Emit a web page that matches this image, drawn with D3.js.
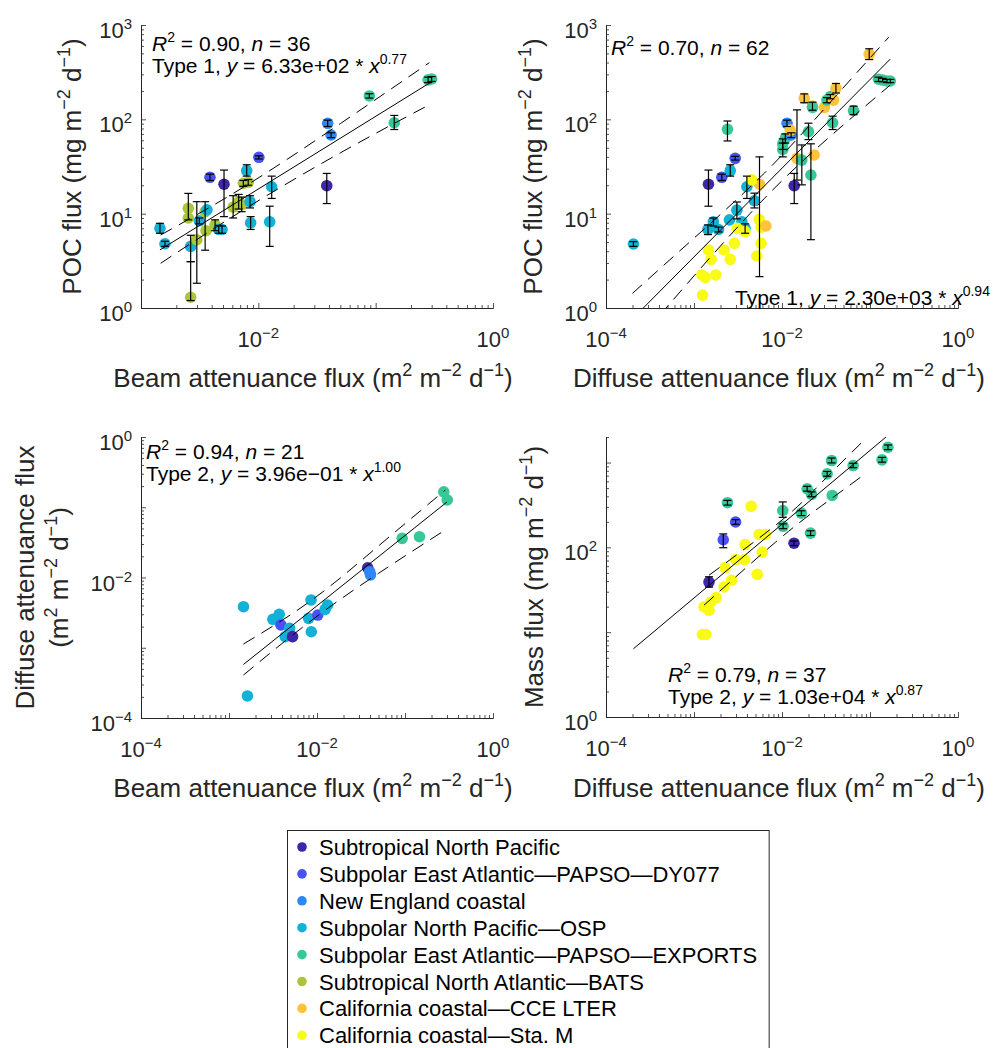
<!DOCTYPE html>
<html>
<head>
<meta charset="utf-8">
<script src="https://cdn.jsdelivr.net/npm/d3@7"></script>
<style>
  html, body { margin: 0; padding: 0; background: #ffffff; }
  svg { display: block; }
</style>
</head>
<body>
<svg id="fig" width="996" height="1048"></svg>
<script>
// ---------------------------------------------------------------
// Regions (legend order)
// ---------------------------------------------------------------
const seriesNames = [
  "Subtropical North Pacific",
  "Subpolar East Atlantic\u2014PAPSO\u2014DY077",
  "New England coastal",
  "Subpolar North Pacific\u2014OSP",
  "Subpolar East Atlantic\u2014PAPSO\u2014EXPORTS",
  "Subtropical North Atlantic\u2014BATS",
  "California coastal\u2014CCE LTER",
  "California coastal\u2014Sta. M"
];
const seriesColors = ["#3e26a8", "#4852f4", "#2e87f7", "#12b1d6", "#37c897", "#abc739", "#fec338", "#f9fb15"];

// ---------------------------------------------------------------
// Observations: [region, x, y, yLow, yHigh]  (yLow/yHigh optional)
// ---------------------------------------------------------------
// Beam attenuance flux vs POC flux
const beamPoc = [
  [3, 1.45e-3, 7.0, 6.2, 7.9],
  [3, 1.6e-3, 4.8, 4.5, 5.1],
  [5, 2.53e-3, 11.4, 8.6, 16.4],
  [5, 2.53e-3, 9.0],
  [3, 2.65e-3, 4.5, 3.1, 5.9],
  [5, 2.65e-3, 1.3, 1.2, 3.1],
  [5, 2.99e-3, 5.3, 1.83, 13.4],
  [3, 3.14e-3, 8.4, 7.8, 9.0],
  [5, 3.52e-3, 10.5, 4.1, 13.4],
  [3, 3.65e-3, 11.0],
  [5, 3.58e-3, 6.6],
  [1, 3.87e-3, 24.3, 22.5, 26.2],
  [0, 5.1e-3, 20.5, 9.3, 29],
  [5, 4.28e-3, 7.6, 6.6, 8.6],
  [3, 4.6e-3, 6.8, 6.2, 7.5],
  [3, 4.9e-3, 6.8, 6.2, 7.4],
  [5, 6.1e-3, 11.7, 9.0, 15.5],
  [5, 6.8e-3, 13.4, 11.2, 16.0],
  [5, 7.2e-3, 12.4, 10.5, 15.0],
  [5, 7.45e-3, 21.0, 19.5, 22.5],
  [5, 8.2e-3, 21.5, 20.0, 23.0],
  [3, 7.96e-3, 28.6, 25.0, 33.0],
  [3, 8.5e-3, 13.4, 11.5, 15.5],
  [3, 8.6e-3, 8.0, 6.8, 9.3],
  [1, 1.01e-2, 39.6, 38.0, 41.0],
  [3, 1.3e-2, 19.3, 14.5, 25.0],
  [3, 1.25e-2, 8.2, 4.5, 12.0],
  [2, 0.039, 90.8, 84, 98],
  [2, 0.0417, 68.2, 64, 72],
  [0, 0.0383, 19.8, 12.8, 26.7],
  [4, 0.0883, 177, 168, 187],
  [4, 0.144, 92, 78, 110],
  [4, 0.28, 262, 245, 280],
  [4, 0.30, 268, 252, 284]
];

// Diffuse attenuance flux vs POC flux
const diffusePoc = [
  [3, 2.05e-4, 4.77, 4.5, 5.05],
  [0, 1.46e-3, 20.5, 12.0, 29.0],
  [4, 2.4e-3, 78.4, 59, 96],
  [1, 2.94e-3, 38.6, 37, 40.5],
  [1, 2.07e-3, 24.3, 22.5, 26.2],
  [3, 2.58e-3, 28.6, 25, 33],
  [3, 3.99e-3, 19.3, 14.5, 25],
  [6, 5.55e-3, 20.5, 2.15, 40],
  [7, 4.55e-3, 22.8],
  [3, 4.86e-3, 13.7, 11.5, 16.5],
  [3, 3.07e-3, 10.9, 8.8, 13.3],
  [3, 1.66e-3, 8.2, 7.4, 9.0],
  [3, 1.44e-3, 6.8, 6.0, 7.6],
  [3, 1.9e-3, 6.8, 6.4, 7.2],
  [3, 2.53e-3, 8.6],
  [3, 3.5e-3, 8.2],
  [3, 3.81e-3, 7.0, 6.2, 7.8],
  [7, 3.12e-3, 7.0],
  [7, 3.81e-3, 6.45],
  [7, 5.5e-3, 8.7],
  [7, 5.79e-3, 7.2],
  [6, 6.56e-3, 7.4],
  [7, 2.88e-3, 4.85],
  [7, 5.79e-3, 4.85],
  [7, 1.46e-3, 4.12],
  [7, 2.2e-3, 4.12],
  [7, 1.57e-3, 3.28],
  [7, 2.58e-3, 3.28],
  [7, 5.18e-3, 3.56],
  [7, 1.23e-3, 2.24],
  [7, 1.34e-3, 2.11],
  [7, 1.77e-3, 2.24],
  [7, 1.25e-3, 1.37],
  [6, 0.0148, 38.6, 22.7, 126],
  [4, 0.0168, 37.0, 20.2, 53.5],
  [4, 0.0213, 25.7, 5.3, 55],
  [6, 0.0232, 41.9],
  [0, 0.01377, 19.8, 12.8, 26.7],
  [4, 0.0102, 48, 40, 56],
  [4, 0.0102, 54.8, 48, 62],
  [4, 0.0109, 63, 56, 70],
  [2, 0.0114, 90.8, 84, 98],
  [2, 0.0127, 68.2, 64, 72],
  [6, 0.0124, 77],
  [4, 0.02, 74, 61, 91],
  [6, 0.0179, 167, 150, 186],
  [6, 0.0222, 138, 125, 152],
  [4, 0.0222, 134],
  [6, 0.0304, 134],
  [4, 0.0324, 160, 150, 170],
  [4, 0.0354, 174, 165, 183],
  [6, 0.0385, 160],
  [6, 0.041, 213, 190, 240],
  [4, 0.0376, 92, 78, 108],
  [4, 0.065, 124, 112, 138],
  [6, 0.098, 489, 430, 560],
  [4, 0.125, 266, 252, 280],
  [4, 0.139, 261, 250, 272],
  [4, 0.156, 255, 245, 265],
  [4, 0.170, 255, 245, 265]
];

// Beam attenuance flux vs diffuse attenuance flux
const beamDiffuse = [
  [3, 1.46e-3, 3.84e-3],
  [3, 1.62e-3, 2.06e-4],
  [3, 3.15e-3, 2.54e-3],
  [3, 3.72e-3, 2.99e-3],
  [1, 3.89e-3, 2.11e-3],
  [3, 4.88e-3, 1.89e-3],
  [3, 4.36e-3, 1.44e-3],
  [0, 5.27e-3, 1.44e-3],
  [3, 8.55e-3, 4.79e-3],
  [3, 8.02e-3, 2.62e-3],
  [3, 8.61e-3, 1.69e-3],
  [1, 1.02e-2, 2.92e-3],
  [3, 1.24e-2, 3.52e-3],
  [3, 1.32e-2, 4.06e-3],
  [0, 0.0377, 0.01377],
  [2, 0.0397, 0.0121],
  [2, 0.0405, 0.0109],
  [4, 0.0929, 0.0361],
  [4, 0.146, 0.0381],
  [4, 0.276, 0.166],
  [4, 0.302, 0.127]
];

// Diffuse attenuance flux vs mass flux
const diffuseMass = [
  [4, 0.160, 1514, 1420, 1610],
  [4, 0.137, 1076, 1010, 1150],
  [4, 0.0643, 922, 870, 980],
  [4, 0.0366, 1056, 990, 1130],
  [4, 0.0326, 736, 690, 785],
  [4, 0.0193, 491, 460, 525],
  [4, 0.0217, 421, 395, 450],
  [4, 0.0372, 409],
  [4, 0.0166, 253, 237, 270],
  [4, 0.0102, 272, 226, 343],
  [4, 0.0103, 177, 166, 189],
  [4, 0.0211, 147, 138, 157],
  [4, 2.4e-3, 336, 315, 358],
  [1, 2.97e-3, 199, 187, 212],
  [1, 2.15e-3, 123, 99, 144],
  [0, 0.0137, 112, 105, 119],
  [0, 1.48e-3, 39, 34, 45],
  [7, 4.46e-3, 304],
  [7, 3.81e-3, 108],
  [7, 5.5e-3, 142],
  [7, 6.46e-3, 142],
  [7, 5.96e-3, 88],
  [7, 2.97e-3, 71.7],
  [7, 3.76e-3, 71.7],
  [7, 2.26e-3, 57.7],
  [7, 5.24e-3, 48],
  [7, 2.68e-3, 40.9],
  [7, 2.19e-3, 34.1],
  [7, 1.79e-3, 25.6],
  [7, 1.55e-3, 22.7],
  [7, 1.3e-3, 19.9],
  [7, 1.48e-3, 18.1],
  [7, 1.25e-3, 9.4],
  [7, 1.36e-3, 9.4]
];

// ---------------------------------------------------------------
// Power-law fits y = a * x^b, their statistics and x extents
// ---------------------------------------------------------------
const fitCoefA = [6.33e2, 0.77];
const fitCoefB = [2.30e3, 0.94];
const fitCoefC = [3.96e-1, 1.00];
const fitCoefD = [1.03e4, 0.87];
const fitTypes = [1, 1, 2, 2];
const fitR2 = [0.90, 0.70, 0.94, 0.79];
const fitN = [36, 62, 21, 37];
const fitRangeA = [1.45e-3, 0.30];
const fitRangeB = [2.05e-4, 0.17];
const fitRangeC = [1.46e-3, 0.30];
const fitRangeD = [2.05e-4, 0.17];

// Confidence bounds: [x, y]
const upperA = [[1.47e-3, 5.94], [7.94e-3, 20.0], [0.0501, 90.2], [0.287, 399]];
const lowerA = [[1.47e-3, 2.98], [7.94e-3, 11.5], [0.0501, 44.2], [0.295, 145.6]];
const upperB = [[2.0e-4, 1.43], [1e-3, 5.5], [6.31e-3, 26.9], [0.0316, 135], [0.163, 741]];
const lowerB = [[2.0e-4, 0.384], [1e-3, 2.19], [6.31e-3, 14.5], [0.0316, 60.3], [0.170, 231]];
const upperC = [[1.46e-3, 1.13e-3], [8.77e-3, 4.79e-3], [0.0501, 0.0282], [0.288, 0.176]];
const lowerC = [[1.46e-3, 4.09e-4], [8.77e-3, 2.48e-3], [0.0501, 0.01148], [0.302, 0.0495]];
const upperD = [[1.48e-3, 46.9], [0.01, 210], [0.0282, 581], [0.0811, 1734]];
const lowerD = [[1.30e-3, 20.8], [8.43e-3, 115], [0.0282, 309], [0.0883, 736]];

// ---------------------------------------------------------------
// Axis ranges and labelled decades
// ---------------------------------------------------------------
const xDomainA = [1e-3, 1], yDomainA = [1, 1e3];
const xDomainB = [1e-4, 1], yDomainB = [1, 1e3];
const xDomainC = [1e-4, 1], yDomainC = [1e-4, 1];
const xDomainD = [1e-4, 1], yDomainD = [1, 2e3];
const xTickExpA = [-2, 0], yTickExpA = [0, 1, 2, 3];
const xTickExpB = [-4, -2, 0], yTickExpB = [0, 1, 2, 3];
const xTickExpC = [-4, -2, 0], yTickExpC = [-4, -2, 0];
const xTickExpD = [-4, -2, 0], yTickExpD = [0, 2];

// ---------------------------------------------------------------
// Drawing
// ---------------------------------------------------------------
const FONT = '"Liberation Sans", Arial, Helvetica, sans-serif';
const AXIS_COLOR = "#262626";
const svg = d3.select("#fig").attr("font-family", FONT);

const MINUS = "\u2212";

// Rich text: parts are [string, flags] with flags "i" (italic) and/or "s" (superscript)
function richText(sel, parts, size) {
  const supSize = Math.round(size * 0.68);
  const rise = Math.round(size * 0.42);
  let raised = false;
  parts.forEach(p => {
    const flags = p[1] || "";
    const ts = sel.append("tspan").text(p[0]);
    if (flags.includes("i")) ts.attr("font-style", "italic");
    if (flags.includes("s")) {
      ts.attr("font-size", supSize);
      if (!raised) { ts.attr("dy", -rise); raised = true; }
    } else {
      ts.attr("font-size", size);
      if (raised) { ts.attr("dy", rise); raised = false; }
    }
  });
  return sel;
}

function sci(v) {
  let e = Math.floor(Math.log10(Math.abs(v)) + 1e-9);
  let m = v / Math.pow(10, e);
  let ms = m.toFixed(2);
  if (ms === "10.00") { e += 1; ms = "1.00"; }
  return ms + "e" + (e < 0 ? MINUS : "+") + String(Math.abs(e)).padStart(2, "0");
}

function logTicks(domain) {
  const [lo, hi] = domain, majors = [], minors = [];
  for (let k = Math.floor(Math.log10(lo)); k <= Math.ceil(Math.log10(hi)); k++) {
    const base = Math.pow(10, k);
    if (base >= lo * 0.999 && base <= hi * 1.001) majors.push(base);
    for (let m = 2; m <= 9; m++) {
      const v = m * base;
      if (v >= lo * 0.999 && v <= hi * 1.001) minors.push(v);
    }
  }
  return { majors, minors };
}

const unitsArea = [["(m"], ["2", "s"], [" m"], [MINUS + "2", "s"], [" d"], [MINUS + "1", "s"], [")"]];
const unitsMass = [["(mg m"], [MINUS + "2", "s"], [" d"], [MINUS + "1", "s"], [")"]];

const panels = [
  {
    data: beamPoc, coef: fitCoefA, range: fitRangeA, upper: upperA, lower: lowerA, idx: 0,
    xDomain: xDomainA, yDomain: yDomainA, xExp: xTickExpA, yExp: yTickExpA,
    left: 141, right: 493, top: 25, bottom: 308,
    xLabel: [["Beam attenuance flux "]].concat(unitsArea), xLabelPos: [313, 387],
    yLabel: [[[["POC flux "]].concat(unitsMass), 81]], yLabelCy: 166.5,
    ann: [{ x: 152, y: 51, line: 1 }, { x: 152, y: 73, line: 2 }]
  },
  {
    data: diffusePoc, coef: fitCoefB, range: fitRangeB, upper: upperB, lower: lowerB, idx: 1,
    xDomain: xDomainB, yDomain: yDomainB, xExp: xTickExpB, yExp: yTickExpB,
    left: 606, right: 958, top: 25, bottom: 308,
    xLabel: [["Diffuse attenuance flux "]].concat(unitsArea), xLabelPos: [779, 387],
    yLabel: [[[["POC flux "]].concat(unitsMass), 542]], yLabelCy: 166.5,
    ann: [{ x: 611, y: 54.5, line: 1 }, { x: 735, y: 305, line: 2 }]
  },
  {
    data: beamDiffuse, coef: fitCoefC, range: fitRangeC, upper: upperC, lower: lowerC, idx: 2,
    xDomain: xDomainC, yDomain: yDomainC, xExp: xTickExpC, yExp: yTickExpC,
    left: 141, right: 493, top: 437, bottom: 718,
    xLabel: [["Beam attenuance flux "]].concat(unitsArea), xLabelPos: [313, 797],
    yLabel: [[[["Diffuse attenuance flux"]], 34], [unitsArea, 68]], yLabelCy: 577.5,
    ann: [{ x: 146, y: 459, line: 1 }, { x: 146, y: 481, line: 2 }]
  },
  {
    data: diffuseMass, coef: fitCoefD, range: fitRangeD, upper: upperD, lower: lowerD, idx: 3,
    xDomain: xDomainD, yDomain: yDomainD, xExp: xTickExpD, yExp: yTickExpD,
    left: 606, right: 958, top: 437, bottom: 717,
    xLabel: [["Diffuse attenuance flux "]].concat(unitsArea), xLabelPos: [779, 797],
    yLabel: [[[["Mass flux "]].concat(unitsMass), 543]], yLabelCy: 577,
    ann: [{ x: 668, y: 682, line: 1 }, { x: 668, y: 704, line: 2 }]
  }
];

const defs = svg.append("defs");

panels.forEach((p, pi) => {
  const x = d3.scaleLog().domain(p.xDomain).range([p.left, p.right]);
  const y = d3.scaleLog().domain(p.yDomain).range([p.bottom, p.top]);
  const g = svg.append("g");

  const clipId = "clip" + pi;
  defs.append("clipPath").attr("id", clipId).append("rect")
    .attr("x", p.left).attr("y", p.top)
    .attr("width", p.right - p.left).attr("height", p.bottom - p.top);

  // axes: minor ticks, then major ticks, all pointing inward
  const xt = logTicks(p.xDomain), yt = logTicks(p.yDomain);
  const axG = g.append("g");
  axG.append("g").attr("transform", `translate(0,${p.bottom})`)
    .call(d3.axisBottom(x).tickValues(xt.minors).tickSizeInner(-3).tickSizeOuter(0).tickFormat(""));
  axG.append("g").attr("transform", `translate(0,${p.bottom})`)
    .call(d3.axisBottom(x).tickValues(xt.majors).tickSizeInner(-5).tickSizeOuter(0).tickFormat(""));
  axG.append("g").attr("transform", `translate(${p.left},0)`)
    .call(d3.axisLeft(y).tickValues(yt.minors).tickSizeInner(-3).tickSizeOuter(0).tickFormat(""));
  axG.append("g").attr("transform", `translate(${p.left},0)`)
    .call(d3.axisLeft(y).tickValues(yt.majors).tickSizeInner(-5).tickSizeOuter(0).tickFormat(""));
  axG.selectAll("path.domain").attr("stroke", AXIS_COLOR).attr("stroke-width", 1);
  axG.selectAll(".tick line").attr("stroke", AXIS_COLOR).attr("stroke-width", 0.8);
  axG.selectAll(".tick text").remove();

  // tick labels 10^k
  p.xExp.forEach(e => {
    const t = g.append("text").attr("x", x(Math.pow(10, e))).attr("y", p.bottom + 39)
      .attr("text-anchor", "middle").attr("fill", AXIS_COLOR);
    richText(t, [["10"], [(e < 0 ? MINUS : "") + Math.abs(e), "s"]], 22);
  });
  p.yExp.forEach(e => {
    const t = g.append("text").attr("x", p.left - 9).attr("y", y(Math.pow(10, e)) + 13)
      .attr("text-anchor", "end").attr("fill", AXIS_COLOR);
    richText(t, [["10"], [(e < 0 ? MINUS : "") + Math.abs(e), "s"]], 22);
  });

  // axis titles
  const xl = g.append("text").attr("x", p.xLabelPos[0]).attr("y", p.xLabelPos[1])
    .attr("text-anchor", "middle").attr("fill", AXIS_COLOR);
  richText(xl, p.xLabel, 26);
  p.yLabel.forEach(([parts, bx]) => {
    const yl = g.append("text")
      .attr("transform", `translate(${bx},${p.yLabelCy}) rotate(-90)`)
      .attr("text-anchor", "middle").attr("fill", AXIS_COLOR);
    richText(yl, parts, 26);
  });

  // points
  const pts = p.data.map(d => ({ s: d[0], x: d[1], y: d[2], lo: d[3], hi: d[4] }));
  g.append("g").selectAll("circle").data(pts).join("circle")
    .attr("cx", d => x(d.x)).attr("cy", d => y(d.y)).attr("r", 5.8)
    .attr("fill", d => seriesColors[d.s]);

  // error bars
  const eb = pts.filter(d => d.lo !== undefined && d.hi !== undefined);
  const ebG = g.append("g").attr("stroke", "#000").attr("stroke-width", 1.2).attr("fill", "none");
  eb.forEach(d => {
    const cx = x(d.x);
    ebG.append("line").attr("x1", cx).attr("x2", cx).attr("y1", y(d.lo)).attr("y2", y(d.hi));
    ebG.append("line").attr("x1", cx - 4).attr("x2", cx + 4).attr("y1", y(d.lo)).attr("y2", y(d.lo));
    ebG.append("line").attr("x1", cx - 4).attr("x2", cx + 4).attr("y1", y(d.hi)).attr("y2", y(d.hi));
  });

  // fit line and bounds
  const lg = g.append("g").attr("clip-path", `url(#${clipId})`).attr("fill", "none").attr("stroke", "#000");
  const [a, b] = p.coef;
  const fitLine = d3.line().x(d => x(d)).y(d => y(a * Math.pow(d, b)));
  lg.append("path").attr("d", fitLine(p.range)).attr("stroke-width", 1);
  const bound = d3.line().x(d => x(d[0])).y(d => y(d[1])).curve(d3.curveNatural);
  [p.upper, p.lower].forEach(arr => {
    lg.append("path").attr("d", bound(arr)).attr("stroke-width", 1).attr("stroke-dasharray", "13,8");
  });

  // statistics text
  const i = p.idx;
  p.ann.forEach(an => {
    const t = g.append("text").attr("x", an.x).attr("y", an.y).attr("fill", "#000");
    if (an.line === 1) {
      richText(t, [["R", "i"], ["2", "s"], [" = " + fitR2[i].toFixed(2) + ", "], ["n", "i"], [" = " + fitN[i]]], 21);
    } else {
      richText(t, [["Type " + fitTypes[i] + ", "], ["y", "i"], [" = " + sci(a) + " * "], ["x", "i"], [b.toFixed(2), "s"]], 21);
    }
  });
});

// ---------------------------------------------------------------
// Legend
// ---------------------------------------------------------------
const legend = svg.append("g");
const legBox = legend.append("rect").attr("x", 287.5).attr("y", 830.5)
  .attr("fill", "#fff").attr("stroke", AXIS_COLOR).attr("stroke-width", 1);
let maxW = 0;
seriesNames.forEach((name, k) => {
  const by = 855 + k * 26.9;
  legend.append("circle").attr("cx", 302).attr("cy", by - 8).attr("r", 4.8).attr("fill", seriesColors[k]);
  const t = legend.append("text").attr("x", 319).attr("y", by).attr("font-size", 22)
    .attr("fill", "#000").text(name);
  maxW = Math.max(maxW, t.node().getComputedTextLength());
});
legBox.attr("width", 319 - 287.5 + maxW + 12).attr("height", 240);
</script>
</body>
</html>
